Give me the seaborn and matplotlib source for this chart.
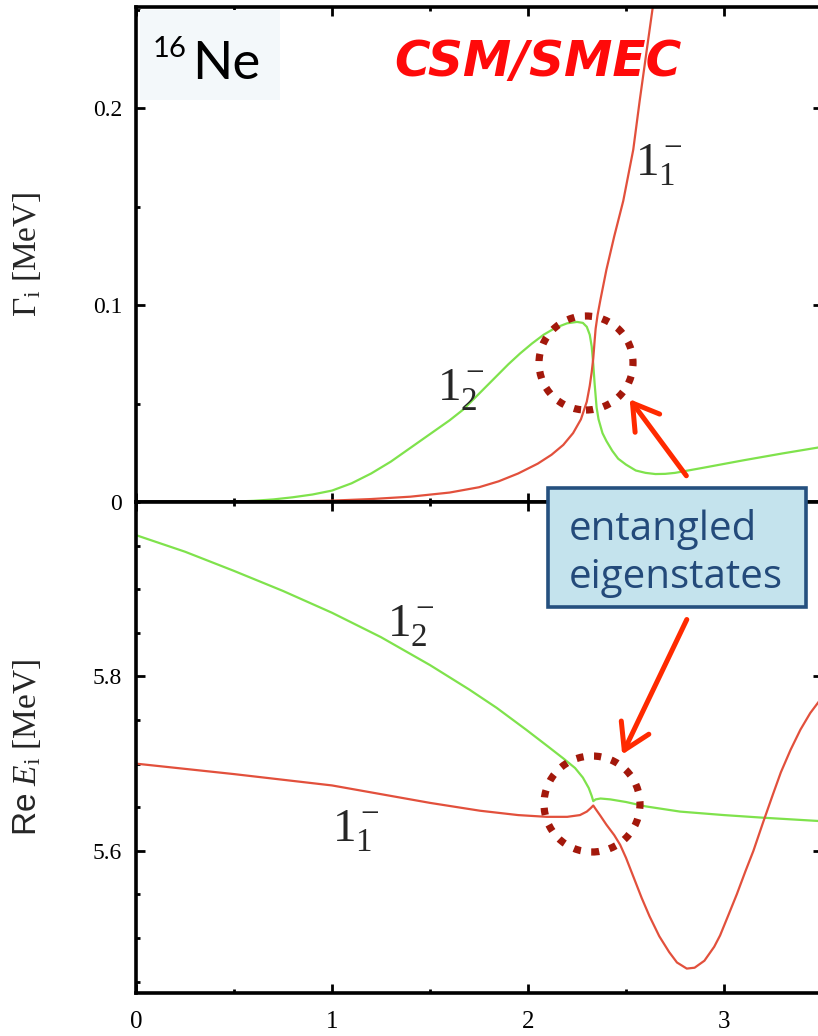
import matplotlib
matplotlib.use("Agg")
import matplotlib.pyplot as plt
import seaborn as sns
from matplotlib.patches import Rectangle, Ellipse, FancyArrowPatch
from matplotlib.ticker import FixedLocator, MultipleLocator

# ---- widths Gamma_i (upper panel) ----
gam2_x = [0.0, 0.4, 0.5, 0.6, 0.7, 0.8, 0.9, 1.0, 1.1, 1.2, 1.3, 1.4, 1.5, 1.6,
          1.67, 1.75, 1.82, 1.9, 1.96, 2.02, 2.08, 2.14, 2.20, 2.25, 2.28, 2.30,
          2.315, 2.325, 2.333, 2.34, 2.35, 2.36, 2.38, 2.40, 2.43, 2.46, 2.50,
          2.55, 2.60, 2.65, 2.70, 2.75, 2.9, 3.1, 3.3, 3.5]
gam2_y = [0.0, 0.0, 0.0002, 0.0006, 0.0013, 0.0024, 0.0038, 0.0058, 0.0095,
          0.0145, 0.0205, 0.0275, 0.0345, 0.0415, 0.047, 0.055, 0.062, 0.070,
          0.0755, 0.0805, 0.0850, 0.0885, 0.0908, 0.0915, 0.0910, 0.0890, 0.0850,
          0.0790, 0.0700, 0.0600, 0.0480, 0.0420, 0.0350, 0.0310, 0.0260, 0.0220,
          0.0190, 0.0160, 0.0148, 0.0142, 0.0143, 0.0148, 0.0175, 0.0212, 0.0247,
          0.0280]

gam1_x = [0.0, 0.5, 0.8, 1.0, 1.2, 1.4, 1.6, 1.75, 1.85, 1.95, 2.05, 2.12, 2.18,
          2.23, 2.27, 2.30, 2.315, 2.325, 2.333, 2.34, 2.345, 2.355, 2.37, 2.40,
          2.44, 2.486, 2.537, 2.57, 2.605, 2.636, 2.66]
gam1_y = [0.0, 0.0, 0.0003, 0.0007, 0.0015, 0.0027, 0.0048, 0.0075, 0.0105,
          0.0145, 0.0195, 0.0240, 0.0290, 0.0350, 0.0420, 0.0510, 0.0590, 0.0660,
          0.0730, 0.0820, 0.0880, 0.0950, 0.1030, 0.1180, 0.1350, 0.1530, 0.1790,
          0.2040, 0.2290, 0.2510, 0.2700]

# ---- real energies Re E_i (lower panel) ----
ene2_x = [0.0, 0.25, 0.5, 0.75, 1.0, 1.25, 1.5, 1.7, 1.84, 1.99, 2.1, 2.18,
          2.24, 2.28, 2.31, 2.325, 2.333, 2.345, 2.37, 2.42, 2.5, 2.6, 2.776,
          3.0, 3.2, 3.5]
ene2_y = [5.962, 5.943, 5.921, 5.898, 5.873, 5.845, 5.813, 5.785, 5.764, 5.739,
          5.720, 5.706, 5.695, 5.684, 5.672, 5.663, 5.657, 5.659, 5.660, 5.659,
          5.656, 5.651, 5.645, 5.641, 5.638, 5.634]

ene1_x = [0.0, 0.5, 1.0, 1.3, 1.5, 1.755, 1.95, 2.095, 2.2, 2.265, 2.30, 2.32,
          2.333, 2.345, 2.37, 2.40, 2.44, 2.47, 2.50, 2.54, 2.58, 2.62, 2.67,
          2.72, 2.76, 2.81, 2.85, 2.90, 2.95, 2.98, 3.02, 3.065, 3.11, 3.15, 3.2,
          3.25, 3.29, 3.34, 3.39, 3.44, 3.5]
ene1_y = [5.700, 5.688, 5.675, 5.663, 5.655, 5.646, 5.641, 5.639, 5.639, 5.641,
          5.645, 5.649, 5.652, 5.648, 5.640, 5.630, 5.618, 5.607, 5.592, 5.569,
          5.546, 5.525, 5.502, 5.484, 5.472, 5.465, 5.466, 5.474, 5.490, 5.503,
          5.525, 5.550, 5.577, 5.600, 5.633, 5.665, 5.690, 5.716, 5.739, 5.758,
          5.776]

x_ticks = [0, 1, 2, 3]
x_tick_labels = ["0", "1", "2", "3"]
gam_ticks = [0.0, 0.1, 0.2]
gam_tick_labels = ["0", "0.1", "0.2"]
ene_ticks = [5.6, 5.8]
ene_tick_labels = ["5.6", "5.8"]

GREEN = "#7fe24c"
RED = "#e2503c"
DOT_RED = "#a3180b"
ARROW_RED = "#ff2a00"

sns.set_theme(style="ticks")
plt.rcParams.update({
    "font.family": ["Liberation Serif", "DejaVu Serif"],
    "mathtext.fontset": "custom",
    "mathtext.rm": "Liberation Serif",
    "mathtext.it": "Liberation Serif:italic",
    "mathtext.bf": "Liberation Serif:bold",
    "mathtext.sf": "Liberation Sans",
    "axes.linewidth": 2.6,
    "axes.edgecolor": "black",
    "xtick.direction": "in",
    "ytick.direction": "in",
    "xtick.major.size": 6.5,
    "ytick.major.size": 6.5,
    "xtick.minor.size": 3.2,
    "ytick.minor.size": 3.2,
    "xtick.major.width": 2.0,
    "ytick.major.width": 2.0,
    "xtick.minor.width": 2.0,
    "ytick.minor.width": 2.0,
    "xtick.color": "black",
    "ytick.color": "black",
})

W, H = 818, 1036
fig = plt.figure(figsize=(W / 100, H / 100), dpi=100)
fig.patch.set_facecolor("white")


def fx(px):
    return px / W


def fy(py):
    return 1 - py / H


left_px, right_px = 136, 822
top_px, mid_px, bot_px = 7, 502, 993
ax_w = (right_px - left_px) / W
ax1 = fig.add_axes([fx(left_px), fy(mid_px), ax_w, (mid_px - top_px) / H])
ax2 = fig.add_axes([fx(left_px), fy(bot_px), ax_w, (bot_px - mid_px) / H])

for ax in (ax1, ax2):
    ax.set_facecolor("white")
    ax.set_xlim(0, 3.5)
    ax.xaxis.set_major_locator(FixedLocator(x_ticks))
    ax.xaxis.set_minor_locator(MultipleLocator(0.5))
    ax.tick_params(which="both", top=True, right=True, bottom=True, left=True)
    ax.tick_params(axis="y", labelsize=17, pad=10)
    ax.tick_params(axis="x", labelsize=18, pad=13)
    for s in ax.spines.values():
        s.set_linewidth(2.6)

# upper panel: widths
sns.lineplot(x=gam2_x, y=gam2_y, ax=ax1, color=GREEN, lw=1.6, sort=False,
             estimator=None)
sns.lineplot(x=gam1_x, y=gam1_y, ax=ax1, color=RED, lw=1.6, sort=False,
             estimator=None)
ax1.set_ylim(0, 0.2515)
ax1.yaxis.set_major_locator(FixedLocator(gam_ticks))
ax1.set_yticklabels(gam_tick_labels)
ax1.yaxis.set_minor_locator(MultipleLocator(0.05))
ax1.tick_params(axis="x", labelbottom=False)
ax1.set_ylabel(r"$\Gamma_{\mathrm{i}}$ [MeV]", fontsize=24)
ax1.yaxis.set_label_coords(-0.135, 0.5)

# lower panel: real parts of the energies
sns.lineplot(x=ene2_x, y=ene2_y, ax=ax2, color=GREEN, lw=1.6, sort=False,
             estimator=None)
sns.lineplot(x=ene1_x, y=ene1_y, ax=ax2, color=RED, lw=1.6, sort=False,
             estimator=None)
ax2.set_ylim(5.437, 6.0)
ax2.yaxis.set_major_locator(FixedLocator(ene_ticks))
ax2.set_yticklabels(ene_tick_labels)
ax2.yaxis.set_minor_locator(MultipleLocator(0.05))
ax2.set_xticklabels(x_tick_labels)
ax2.set_ylabel(r"$\mathsf{Re}\ E_{\mathrm{i}}$ [MeV]", fontsize=24)
ax2.yaxis.set_label_coords(-0.135, 0.5)

# state labels
ax1.text(2.67, 0.171, r"$1_1^-$", fontsize=34, ha="center", va="center")
ax1.text(1.66, 0.057, r"$1_2^-$", fontsize=34, ha="center", va="center")
ax2.text(1.40, 5.857, r"$1_2^-$", fontsize=34, ha="center", va="center")
ax2.text(1.12, 5.623, r"$1_1^-$", fontsize=34, ha="center", va="center")

# nucleus tag
fig.add_artist(Rectangle((fx(140), fy(100)), (280 - 140) / W, 90 / H,
                         transform=fig.transFigure, facecolor="#f3f8fa",
                         edgecolor="none", zorder=2))
fig.text(fx(153), fy(36), "16", fontsize=21, family="Lato", ha="left",
         va="top", color="black", zorder=3)
fig.text(fx(192), fy(79), "Ne", fontsize=38, family="Lato", ha="left",
         va="baseline", color="black", zorder=3)

# model title
fig.text(fx(538), fy(62), "CSM/SMEC", fontsize=35, family="DejaVu Sans",
         fontweight="bold", fontstyle="italic", color="#ff0a0a",
         ha="center", va="center", zorder=3)

# dotted rings around the crossing regions
for cx, cy, r in [(586, 363, 47), (592, 804, 48)]:
    fig.add_artist(Ellipse((fx(cx), fy(cy)), 2 * r / W, 2 * r / H,
                           transform=fig.transFigure, fill=False,
                           edgecolor=DOT_RED, lw=5.2,
                           linestyle=(0, (1, 1.45)), zorder=4))

# arrows from the callout
for tail, head in [((688, 478), (628, 397)), ((688, 617), (621, 757))]:
    fig.add_artist(FancyArrowPatch(
        (fx(tail[0]), fy(tail[1])), (fx(head[0]), fy(head[1])),
        transform=fig.transFigure,
        arrowstyle="->,head_length=0.9,head_width=0.55",
        mutation_scale=20, color=ARROW_RED, lw=3.6, zorder=4))

# callout box
fig.add_artist(Rectangle((fx(548), fy(607)), (806 - 548) / W, (607 - 488) / H,
                         transform=fig.transFigure, facecolor="#c4e3ed",
                         edgecolor="#25507f", lw=2.6, zorder=5))
fig.text(fx(569), fy(540), "entangled", fontsize=29, family="Open Sans",
         color="#234a7a", ha="left", va="baseline", zorder=6)
fig.text(fx(569), fy(588), "eigenstates", fontsize=29, family="Open Sans",
         color="#234a7a", ha="left", va="baseline", zorder=6)

fig.savefig("out.png", dpi=100, facecolor="white")
